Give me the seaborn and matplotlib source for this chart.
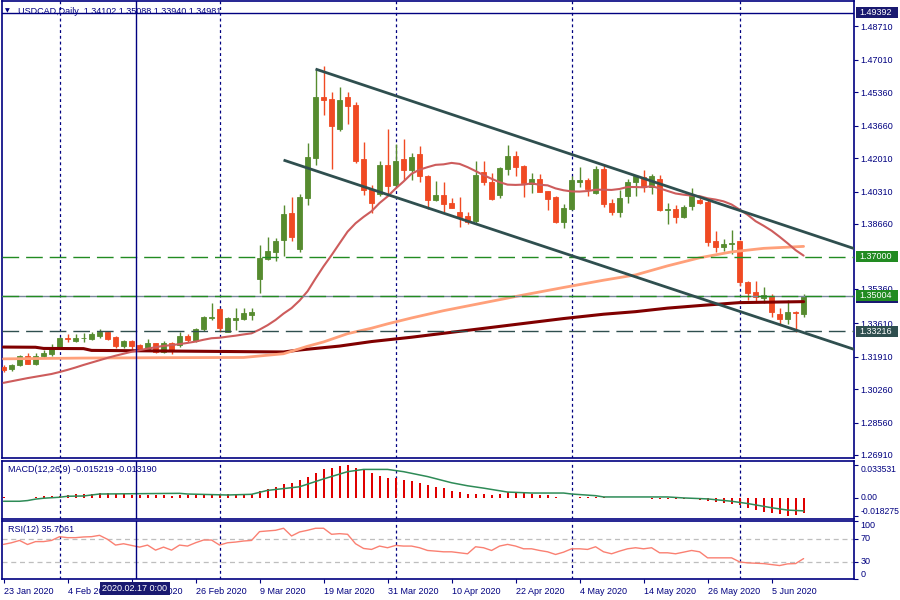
import numpy as np
import pandas as pd
import matplotlib
matplotlib.use("Agg")
import matplotlib.pyplot as plt
import matplotlib.transforms as mtransforms
from matplotlib.patches import Rectangle
import seaborn as sns

# ------------------------------------------------------------------ data
first_date = "2020-01-23"
n_bars = 101

open_ = [1.3139, 1.3127, 1.3149, 1.3195, 1.3153, 1.3195, 1.3207, 1.3236, 1.3287, 1.3273,
         1.3285, 1.3281, 1.3297, 1.3317, 1.3293, 1.3246, 1.3271, 1.3251, 1.3231, 1.3261,
         1.3217, 1.3261, 1.3251, 1.3297, 1.3271, 1.3331, 1.3387, 1.3434, 1.3319, 1.3378,
         1.3383, 1.3404, 1.3588, 1.3690, 1.3726, 1.3782, 1.3923, 1.3741, 1.3996, 1.4204,
         1.4513, 1.4503, 1.4350, 1.4513, 1.4469, 1.4194, 1.4045, 1.4016, 1.4167, 1.4062,
         1.4194, 1.4138, 1.4223, 1.4111, 1.3989, 1.4014, 1.3974, 1.3928, 1.3908, 1.3882,
         1.4128, 1.4082, 1.4014, 1.4147, 1.4214, 1.4162, 1.4070, 1.4096, 1.4035, 1.4001,
         1.3877, 1.3943, 1.4082, 1.4091, 1.4023, 1.4147, 1.3975, 1.3929, 1.4006, 1.4077,
         1.4104, 1.4054, 1.4096, 1.3935, 1.3943, 1.3899, 1.3955, 1.3989, 1.3980, 1.3777,
         1.3751, 1.3763, 1.3780, 1.3573, 1.3521, 1.3492, 1.3502, 1.3409, 1.3382, 1.3420,
         1.34102]
high_ = [1.3149, 1.3154, 1.3200, 1.3210, 1.3210, 1.3226, 1.3256, 1.3292, 1.3307, 1.3307,
         1.3312, 1.3319, 1.3332, 1.3322, 1.3297, 1.3275, 1.3275, 1.3254, 1.3281, 1.3263,
         1.3271, 1.3266, 1.3319, 1.3307, 1.3339, 1.3398, 1.3465, 1.3441, 1.3395, 1.3439,
         1.3439, 1.3439, 1.3760, 1.3801, 1.3797, 1.3964, 1.4001, 1.4020, 1.4279, 1.4654,
         1.4671, 1.4537, 1.4564, 1.4535, 1.4488, 1.4281, 1.4065, 1.4188, 1.4350, 1.4274,
         1.4299, 1.4228, 1.4264, 1.4113, 1.4086, 1.4079, 1.3999, 1.4001, 1.3928, 1.4188,
         1.4188, 1.4125, 1.4155, 1.4269, 1.4238, 1.4165, 1.4123, 1.4120, 1.4036, 1.4008,
         1.3969, 1.4111, 1.4158, 1.4099, 1.4162, 1.4172, 1.3994, 1.4040, 1.4096, 1.4116,
         1.4142, 1.4120, 1.4116, 1.3972, 1.3964, 1.3964, 1.4049, 1.3998, 1.3989, 1.3828,
         1.3790, 1.3836, 1.3785, 1.3577, 1.3578, 1.3543, 1.3510, 1.3438, 1.3480, 1.3421,
         1.35088]
low_ = [1.3113, 1.3119, 1.3144, 1.3153, 1.3149, 1.3185, 1.3195, 1.3231, 1.3266, 1.3266,
        1.3266, 1.3276, 1.3288, 1.3276, 1.3237, 1.3237, 1.3231, 1.3230, 1.3226, 1.3209,
        1.3212, 1.3205, 1.3242, 1.3268, 1.3268, 1.3322, 1.3378, 1.3319, 1.3319, 1.3327,
        1.3378, 1.3378, 1.3517, 1.3684, 1.3680, 1.3704, 1.3780, 1.3724, 1.3960, 1.4164,
        1.4418, 1.4148, 1.4337, 1.4372, 1.4176, 1.4011, 1.3924, 1.4006, 1.4006, 1.4057,
        1.4091, 1.4091, 1.4079, 1.3942, 1.3984, 1.3929, 1.3945, 1.3853, 1.3865, 1.3873,
        1.4065, 1.3990, 1.3999, 1.4113, 1.4111, 1.4001, 1.4023, 1.4028, 1.3935, 1.3873,
        1.3848, 1.3938, 1.4052, 1.4006, 1.4019, 1.3950, 1.3913, 1.3901, 1.3972, 1.4006,
        1.4031, 1.4017, 1.3930, 1.3865, 1.3870, 1.3896, 1.3938, 1.3969, 1.3755, 1.3726,
        1.3731, 1.3713, 1.3551, 1.3480, 1.3471, 1.3466, 1.3392, 1.3353, 1.3358, 1.3316,
        1.33940]
close_ = [1.3124, 1.3149, 1.3195, 1.3154, 1.3196, 1.3210, 1.3237, 1.3287, 1.3280, 1.3287,
          1.3288, 1.3307, 1.3317, 1.3281, 1.3246, 1.3271, 1.3246, 1.3232, 1.3261, 1.3215,
          1.3261, 1.3226, 1.3297, 1.3276, 1.3334, 1.3393, 1.3393, 1.3336, 1.3390, 1.3388,
          1.3414, 1.3420, 1.3695, 1.3729, 1.3780, 1.3918, 1.3802, 1.4001, 1.4208, 1.4513,
          1.4499, 1.4362, 1.4498, 1.4464, 1.4188, 1.4040, 1.3975, 1.4167, 1.4057, 1.4188,
          1.4138, 1.4206, 1.4108, 1.3989, 1.4014, 1.3969, 1.3948, 1.3901, 1.3877, 1.4116,
          1.4082, 1.3994, 1.4152, 1.4214, 1.4158, 1.4074, 1.4096, 1.4031, 1.3994, 1.3877,
          1.3948, 1.4091, 1.4091, 1.4045, 1.4147, 1.3969, 1.3926, 1.3999, 1.4079, 1.4111,
          1.4054, 1.4111, 1.3935, 1.3943, 1.3899, 1.3952, 1.4006, 1.3975, 1.3772, 1.3751,
          1.3765, 1.3771, 1.3573, 1.3517, 1.3497, 1.3505, 1.3419, 1.3382, 1.3420, 1.3412,
          1.34981]

# 20-period MA: values read for the first 19 bars (need earlier history)
sma20_head = [1.3058, 1.3066, 1.3074, 1.3082, 1.3089, 1.3096, 1.3103, 1.3113, 1.3124, 1.3136,
              1.3149, 1.3161, 1.3173, 1.3185, 1.3196, 1.3206, 1.3216, 1.3224, 1.3232]
sma20_period = 20

sma100_idx = [0, 10, 20, 30, 35, 38, 40, 43, 46, 48, 51, 55, 60, 65, 70, 75, 79, 83, 87, 91, 95, 100]
sma100_val = [1.3180, 1.3184, 1.3186, 1.3187, 1.3206, 1.3244, 1.3266, 1.3308, 1.3336, 1.3358,
              1.3388, 1.3425, 1.3465, 1.3505, 1.3543, 1.3580, 1.3607, 1.3653, 1.3694, 1.3724,
              1.3742, 1.3752]
sma200_idx = [0, 4, 5, 10, 11, 26, 35, 37, 42, 46, 51, 55, 60, 65, 70, 75, 79, 83, 87, 92, 100]
sma200_val = [1.3240, 1.3239, 1.3233, 1.3232, 1.3223, 1.3218, 1.3215, 1.3225, 1.3245, 1.3268,
              1.3290, 1.3310, 1.3335, 1.3360, 1.3385, 1.3407, 1.3420, 1.3438, 1.3451, 1.3466,
              1.3471]

macd_main = [0.0008, 0.0003, 0.0001, 0.0001, 0.0010, 0.0015, 0.0017, 0.0020, 0.0033, 0.0040,
             0.0043, 0.0045, 0.0050, 0.0050, 0.0045, 0.0040, 0.0035, 0.0030, 0.0028, 0.0025,
             0.0025, 0.0024, 0.0025, 0.0025, 0.0027, 0.0030, 0.0034, 0.0036, 0.0037, 0.0040,
             0.0041, 0.0043, 0.0074, 0.0092, 0.0111, 0.0144, 0.0151, 0.0178, 0.0218, 0.0251,
             0.0295, 0.0302, 0.0325, 0.033531, 0.0308, 0.0285, 0.0251, 0.0228, 0.0208, 0.0201,
             0.0184, 0.0174, 0.0151, 0.0134, 0.0114, 0.0101, 0.0075, 0.0061, 0.0041, 0.0041,
             0.0044, 0.0034, 0.0044, 0.0061, 0.0051, 0.0051, 0.0041, 0.0034, 0.0027, 0.0010,
             0.0002, 0.0002, 0.0007, 0.0007, 0.0010, 0.0007, 0.0003, 0.0002, 0.0001, -0.0003,
             -0.0003, -0.0007, -0.0006, -0.0006, -0.0010, -0.0010, -0.0014, -0.0017, -0.0032, -0.0042,
             -0.0053, -0.0063, -0.0077, -0.0105, -0.0123, -0.0140, -0.0158, -0.0168, -0.018275, -0.0179,
             -0.015219]
macd_sig_idx = [0, 2, 3, 4, 5, 7, 8, 10, 12, 22, 23, 28, 31, 33, 37, 40, 43, 45, 48, 50,
                53, 56, 58, 60, 63, 66, 70, 71, 74, 75, 83, 85, 88, 91, 93, 96, 98, 100]
macd_sig_val = [-0.0034, -0.0034, -0.0027, -0.0012, -0.0003, 0.0007, 0.0017, 0.0020, 0.0040, 0.0047,
                0.0040, 0.0030, 0.0037, 0.0077, 0.0114, 0.0194, 0.0268, 0.0291, 0.0291, 0.0268,
                0.0218, 0.0155, 0.0124, 0.0100, 0.0060, 0.0050, 0.0050, 0.0040, 0.0023, 0.0010,
                0.0010, 0.0000, -0.0010, -0.0034, -0.0057, -0.0100, -0.0124, -0.013190]

rsi_vals = [60.2, 63, 67, 60, 65, 65, 67, 73.5, 71.8, 71.8, 73, 73.5, 75.8, 68.9, 59, 61.3,
            58.4, 55.5, 59, 50.3, 55.5, 50.3, 59, 57.3, 63, 67.7, 67.7, 59, 63, 64.2, 66, 67,
            82.2, 83.4, 84.5, 88, 74.7, 81.6, 84.5, 88, 88, 77.6, 78.7, 77.6, 61.3, 53.2, 51.5,
            57.3, 54.4, 58.4, 57.3, 57.3, 54.4, 49.7, 48.6, 47.4, 47.4, 45.7, 44, 56.1, 54.4,
            49.7, 57.3, 60.2, 57.3, 52.6, 52.6, 49.7, 47.4, 42.8, 46.8, 52.6, 52.6, 51.5, 56.1,
            47.4, 44, 48.6, 52.6, 54.4, 52.6, 54.4, 45.7, 45.7, 44, 46.8, 49.7, 47.4, 37, 37, 37,
            37, 30, 28.3, 27.7, 27.1, 25.4, 23.7, 26.6, 27.1, 35.7061]
rsi_levels = [70, 30]

upper_trend = [(39, 1.4654), (92, 1.3935)]
lower_trend = [(35, 1.4191), (101, 1.3300)]
green_levels = [1.37000, 1.35004]
slate_levels = [1.33216]
bid_price = 1.34981
cross_price = 1.49392
cross_date = "2020-02-17"

price_ticks = [1.48710, 1.47010, 1.45360, 1.43660, 1.42010, 1.40310, 1.38660,
               1.35360, 1.33610, 1.31910, 1.30260, 1.28560, 1.26910]
macd_ticks = [0.033531, 0.0, -0.018275]
macd_tick_labels = ["0.033531", "0.00", "-0.018275"]
rsi_ticks = [100, 70, 30, 0]
label_step = 8

title_text = "USDCAD,Daily  1.34102 1.35088 1.33940 1.34981"
macd_text = "MACD(12,26,9) -0.015219 -0.013190"
rsi_text = "RSI(12) 35.7061"

# ------------------------------------------------------------------ style
NAVY = "#000080"
BOXNAVY = "#191970"
BULL = "#568B2F"
BEAR = "#F04A23"
SMA20_C = "#CD5C5C"
SMA100_C = "#FFA07A"
SMA200_C = "#800000"
TREND_C = "#2F4F4F"
GREEN_C = "#228B22"
BID_C = "#778899"
MACD_C = "#E00000"
SIG_C = "#2E8B57"
RSI_C = "#FA8072"
FS = 6.5

sns.set_style("white")
plt.rcParams["font.family"] = ["Liberation Sans", "DejaVu Sans"]

dates = pd.bdate_range(first_date, periods=n_bars)
df = pd.DataFrame({"date": dates, "open": open_, "high": high_, "low": low_, "close": close_})
df["i"] = np.arange(len(df))
df["macd"] = macd_main

sma20 = df["close"].rolling(sma20_period).mean()
sma20.iloc[:len(sma20_head)] = sma20_head
df["sma20"] = sma20

W, H = 900, 600
fig = plt.figure(figsize=(9, 6), dpi=100)


def rect(x0, y0, x1, y1):
    return [x0 / W, 1 - y1 / H, (x1 - x0) / W, (y1 - y0) / H]


ax = fig.add_axes(rect(2, 1, 854, 458))
axm = fig.add_axes(rect(2, 460.7, 854, 519), sharex=ax)
axr = fig.add_axes(rect(2, 521.3, 854, 579.3), sharex=ax)

XL = (-0.19, 106.3)
YL = (1.26757, 1.50001)
ax.set_xlim(*XL)
ax.set_ylim(*YL)
axm.set_ylim(-0.0215, 0.0380)
axr.set_ylim(0, 100)

# month separators and crosshair
month_starts = np.where(df["date"].dt.month.diff().fillna(0) != 0)[0]
cross_i = int(np.where(df["date"] == pd.Timestamp(cross_date))[0][0])
for a in (ax, axm, axr):
    for m in month_starts:
        a.axvline(m, color=NAVY, lw=0.9, ls=(0, (2.3, 2.3)), zorder=1)
    a.axvline(cross_i - 0.5, color=NAVY, lw=1.0, zorder=20)

# candles
up = df["close"] >= df["open"]
cols = np.where(up, BULL, BEAR)
ax.vlines(df["i"], df["low"], df["high"], colors=cols, lw=1.0, zorder=3)
ax.bar(df["i"], (df["close"] - df["open"]).abs(), bottom=df[["open", "close"]].min(axis=1),
       width=0.62, color=cols, edgecolor=cols, linewidth=0.6, zorder=4)

# moving averages
sns.lineplot(x=sma200_idx, y=sma200_val, ax=ax, color=SMA200_C, lw=2.2, zorder=5)
sns.lineplot(x=sma100_idx, y=sma100_val, ax=ax, color=SMA100_C, lw=2.0, zorder=5)
sns.lineplot(x=df["i"], y=df["sma20"], ax=ax, color=SMA20_C, lw=1.5, zorder=6)

# horizontal objects
for lv in green_levels:
    ax.axhline(lv, color=GREEN_C, lw=1.0, ls=(0, (12, 5)), zorder=7)
for lv in slate_levels:
    ax.axhline(lv, color=TREND_C, lw=1.0, ls=(0, (12, 5)), zorder=7)
ax.axhline(bid_price, color=BID_C, lw=1.0, zorder=6.5)
ax.axhline(cross_price, color=NAVY, lw=1.0, zorder=20)


# trend rays
def ray(p0, p1, xend):
    slope = (p1[1] - p0[1]) / (p1[0] - p0[0])
    return [p0[0], xend], [p0[1], p0[1] + slope * (xend - p0[0])]


for tl in (upper_trend, lower_trend):
    xs, ys = ray(tl[0], tl[1], XL[1])
    ax.plot(xs, ys, color=TREND_C, lw=2.0, zorder=8, solid_capstyle="butt")

# MACD histogram + signal
axm.vlines(df["i"], 0, df["macd"], colors=MACD_C, lw=1.4, zorder=3, antialiased=False)
sns.lineplot(x=macd_sig_idx, y=macd_sig_val, ax=axm, color=SIG_C, lw=1.1, zorder=4)

# RSI
for lv in rsi_levels:
    axr.axhline(lv, color="#BEBEBE", lw=0.9, ls=(0, (4, 3)), zorder=2)
sns.lineplot(x=df["i"], y=rsi_vals, ax=axr, color=RSI_C, lw=1.0, zorder=4)

# axes cosmetics
for a in (ax, axm, axr):
    a.set_xlabel("")
    a.set_ylabel("")
    for s in a.spines.values():
        s.set_color(NAVY)
        s.set_linewidth(1.2)
    a.yaxis.tick_right()
    a.tick_params(axis="y", which="both", right=True, left=False, labelright=True, labelleft=False,
                  direction="out", length=3, width=0.8, color=NAVY, labelcolor=NAVY,
                  labelsize=FS, pad=1.5)
    a.grid(False)

ax.tick_params(axis="x", bottom=False, labelbottom=False)
axm.tick_params(axis="x", bottom=False, labelbottom=False)

ax.set_yticks(price_ticks)
ax.set_yticklabels([f"{t:.5f}" for t in price_ticks])
axm.set_yticks(macd_ticks)
axm.set_yticklabels(macd_tick_labels)
axm.tick_params(axis="y", labelsize=6.2)
axr.set_yticks(rsi_ticks)
axr.set_yticklabels([str(t) for t in rsi_ticks])
for lab, va in zip(axm.get_yticklabels(), ["top", "center", "bottom"]):
    lab.set_verticalalignment(va)
for lab, va in zip(axr.get_yticklabels(), ["top", "center", "center", "bottom"]):
    lab.set_verticalalignment(va)

xt = df["i"].values[::label_step]
axr.set_xticks(xt)
axr.set_xticklabels([f"{d.day} {d.strftime('%b %Y')}" for d in df["date"].iloc[::label_step]])
axr.tick_params(axis="x", bottom=True, direction="out", length=3, width=0.8, color=NAVY,
                labelcolor=NAVY, labelsize=FS, pad=2.5)
for lab in axr.get_xticklabels():
    lab.set_horizontalalignment("left")
ax.set_xlim(*XL)

# price boxes on the right scale
blend = mtransforms.blended_transform_factory(ax.transAxes, ax.transData)
px_x = 1.0 / 852
px_y = (YL[1] - YL[0]) / 457


def price_box(price, text, fc, h=11):
    ax.add_patch(Rectangle((1 + 1.5 * px_x, price - h / 2 * px_y), 43 * px_x, h * px_y,
                           transform=blend, fc=fc, ec="none", clip_on=False, zorder=30))
    if text:
        ax.text(1 + 5 * px_x, price, text, transform=blend, color="white", fontsize=FS,
                va="center", ha="left", zorder=31, clip_on=False)


price_box(cross_price, f"{cross_price:.5f}", BOXNAVY)
price_box(bid_price, "", BOXNAVY, h=13)
for lv in green_levels:
    price_box(lv, f"{lv:.5f}", GREEN_C)
for lv in slate_levels:
    price_box(lv, f"{lv:.5f}", TREND_C)

# texts
fig.text(5 / W, 1 - 11 / H, "\u25BC", fontsize=4.5, color=NAVY, va="center", ha="left",
         family=["DejaVu Sans"])
fig.text(18 / W, 1 - 11 / H, title_text, fontsize=FS, color=NAVY, va="center", ha="left")
fig.text(8 / W, 1 - 470 / H, macd_text, fontsize=FS, color=NAVY, va="center", ha="left")
fig.text(8 / W, 1 - 530 / H, rsi_text, fontsize=FS, color=NAVY, va="center", ha="left")
fig.text(135 / W, 1 - 588.5 / H, pd.Timestamp(cross_date).strftime("%Y.%m.%d 0:00"),
         fontsize=FS, color="white", va="center", ha="center",
         bbox=dict(boxstyle="square,pad=0.25", fc=BOXNAVY, ec="none"), zorder=40)

fig.savefig("out.png", dpi=100)
